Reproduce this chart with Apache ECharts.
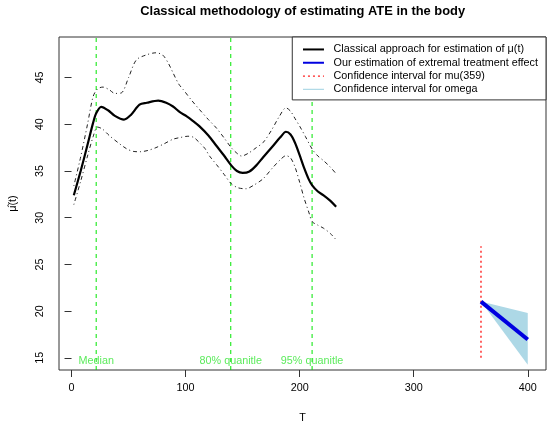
<!DOCTYPE html>
<html>
<head>
<meta charset="utf-8">
<script src="https://cdn.jsdelivr.net/npm/echarts@6/dist/echarts.min.js"></script>
<style>
html,body{margin:0;padding:0;background:#fff;}
#chart{width:550px;height:429px;}
</style>
</head>
<body>
<div id="chart"></div>
<script>
// Classical estimate mu(t)
var muX = [2, 8, 14, 19, 21.7, 26, 32, 38, 46, 52, 59.6, 66, 76, 83, 89, 95, 101, 106, 112, 120, 127, 134, 140, 145, 150, 156, 162, 168, 176, 183, 188, 192, 196, 200, 204, 208, 211, 216, 221, 227, 232];
var muY = [32.4, 35.0, 37.8, 40.2, 41.2, 41.87, 41.5, 40.9, 40.5, 41.0, 42.1, 42.3, 42.53, 42.3, 41.9, 41.3, 40.85, 40.4, 39.8, 38.8, 37.7, 36.6, 35.6, 35.0, 34.8, 34.95, 35.6, 36.47, 37.6, 38.6, 39.2, 38.9, 38.0, 36.7, 35.3, 34.1, 33.46, 32.8, 32.4, 31.8, 31.17];
// Upper confidence band
var upX = [2, 8, 14, 19, 23, 27.5, 33, 38, 43.6, 50, 56.7, 65, 74, 80, 85, 89, 94, 98, 105, 112, 120, 127, 134, 140, 145, 149, 155, 162, 168, 175, 182, 188, 192, 196, 200, 205, 211, 216, 221, 227, 232];
var upY = [33.4, 36.5, 40.0, 43.0, 43.8, 43.98, 43.7, 43.3, 43.35, 45.0, 46.87, 47.4, 47.65, 47.4, 46.5, 45.5, 44.3, 43.7, 42.6, 41.6, 40.5, 39.6, 38.5, 37.5, 36.9, 36.6, 36.9, 37.5, 38.05, 39.3, 40.8, 41.76, 41.4, 40.6, 39.8, 38.7, 37.34, 36.6, 36.1, 35.4, 34.7];
// Lower confidence band
var loX = [2, 8, 14, 19, 22.6, 27, 33, 40.6, 48, 54, 60, 67, 74, 81, 89, 96, 102, 107, 112, 117, 121, 127, 134, 140, 146, 153, 160, 168, 176, 183, 188, 192, 196, 200, 204, 208, 211, 216, 221, 227, 232];
var loY = [31.4, 33.9, 36.6, 38.7, 39.7, 39.5, 38.8, 38.05, 37.4, 37.1, 37.06, 37.2, 37.5, 37.9, 38.4, 38.6, 38.72, 38.6, 38.05, 37.4, 36.6, 35.7, 34.6, 33.64, 33.2, 33.1, 33.5, 34.17, 35.3, 36.2, 36.64, 36.4, 35.4, 33.8, 32.05, 30.6, 29.58, 29.2, 28.87, 28.3, 27.63];
// Extremal treatment effect
var extX = [359, 400];
var extY = [21.02, 16.97];
// Confidence interval for omega (polygon)
var omegaX = [359, 400, 400];
var omegaY = [21.02, 19.8, 14.25];
// Confidence interval for mu(359)
var ciMuX = [359, 359];
var ciMuY = [15, 26.95];
// Quantile lines
var quantX = [21.6, 139.6, 210.9];
var quantLabels = ['Median', '80% quanitle', '95% quanitle'];
var quantLabelY = 14.68;
// Axis ranges and ticks
var xRange = [-11, 416];
var yRange = [13.7, 49.34];
var xTicks = [0, 100, 200, 300, 400];
var yTicks = [15, 20, 25, 30, 35, 40, 45];

var names = ['Classical approach for estimation of \u03bc(t)', 'Our estimation of extremal treatment effect', 'Confidence interval for mu(359)', 'Confidence interval for omega'];

function pairs(xs, ys) { return xs.map(function (x, i) { return [x, ys[i]]; }); }

var FONT = 'Liberation Sans, Arial, Helvetica, sans-serif';
var dashDot = [1, 3, 4, 3];

var quantSeries = quantX.map(function (x, i) {
  return {
    name: 'q' + i, type: 'line', symbol: 'none', silent: true,
    data: [[x, yRange[0]], [x, yRange[1]]],
    lineStyle: { color: '#00e600', width: 1, type: [4, 4] }, z: 3
  };
});

var chart = echarts.init(document.getElementById('chart'), null, { renderer: 'canvas' });
chart.setOption({
  animation: false,
  backgroundColor: '#fff',
  textStyle: { fontFamily: FONT },
  title: {
    text: 'Classical methodology of estimating ATE in the body',
    left: 302.7, top: 5, padding: 0, textAlign: 'center',
    textStyle: { fontSize: 12.9, fontWeight: 'bold', color: '#000', fontFamily: FONT }
  },
  grid: { left: 59, right: 4, top: 37, bottom: 56, show: true, borderColor: '#333', borderWidth: 1, backgroundColor: 'transparent', containLabel: false },
  legend: {
    data: [
      { name: names[0], lineStyle: { width: 2 } },
      { name: names[1], lineStyle: { width: 2 } },
      { name: names[2], lineStyle: { width: 1.2 } },
      { name: names[3], lineStyle: { width: 1.2 } }
    ],
    orient: 'vertical', right: 4, top: 37,
    padding: [5.8, 8, 3.9, 9.7],
    itemWidth: 21, itemHeight: 10, itemGap: 0,
    itemStyle: { opacity: 0 },
    backgroundColor: '#fff', borderColor: '#333', borderWidth: 1, borderRadius: 0,
    selectedMode: false,
    textStyle: { fontSize: 10.8, color: '#000', lineHeight: 13.3, padding: [0, 0, 0, 4.6], fontFamily: FONT },
    z: 20
  },
  xAxis: {
    type: 'value', min: xRange[0], max: xRange[1],
    name: 'T', nameLocation: 'middle', nameGap: 43,
    nameTextStyle: { fontSize: 10.8, color: '#000', fontFamily: FONT },
    axisLine: { show: false },
    axisTick: { show: true, inside: false, length: 7, customValues: xTicks, lineStyle: { color: '#333' } },
    axisLabel: { show: true, customValues: xTicks, margin: 13, fontSize: 10.8, color: '#000', fontFamily: FONT },
    splitLine: { show: false }
  },
  yAxis: {
    type: 'value', min: yRange[0], max: yRange[1],
    name: '\u03bc\u0302(t)', nameLocation: 'middle', nameGap: 40,
    nameTextStyle: { fontSize: 10.8, color: '#000', fontFamily: FONT },
    axisLine: { show: false },
    axisTick: { show: true, inside: false, length: 7, customValues: yTicks, lineStyle: { color: '#333' } },
    axisLabel: { show: true, customValues: yTicks, rotate: 90, margin: 13, fontSize: 10.8, color: '#000', fontFamily: FONT },
    splitLine: { show: false }
  },
  series: [
    {
      name: names[0], type: 'line', data: pairs(muX, muY), smooth: 0.3, symbol: 'none',
      lineStyle: { color: '#000', width: 2.2 }, itemStyle: { color: '#000' }, z: 5
    },
    {
      name: 'upper', type: 'line', data: pairs(upX, upY), smooth: 0.3, symbol: 'none',
      lineStyle: { color: '#222', width: 1, type: dashDot }, z: 4
    },
    {
      name: 'lower', type: 'line', data: pairs(loX, loY), smooth: 0.3, symbol: 'none',
      lineStyle: { color: '#222', width: 1, type: dashDot }, z: 4
    }
  ].concat(quantSeries).concat([
    {
      name: 'quantLabels', type: 'scatter', symbolSize: 0, silent: true,
      data: quantX.map(function (x, i) { return { value: [x, quantLabelY], name: quantLabels[i] }; }),
      label: { show: true, position: 'inside', formatter: '{b}', color: '#33e633', fontSize: 10.8, fontFamily: FONT },
      z: 6
    },
    {
      name: 'omegaPoly', type: 'custom', silent: true,
      renderItem: function (params, api) {
        if (params.dataIndex !== 0) return null;
        var pts = omegaX.map(function (x, i) { return api.coord([x, omegaY[i]]); });
        return { type: 'polygon', shape: { points: pts }, style: { fill: '#ADD8E6' } };
      },
      data: pairs(omegaX, omegaY), z: 2
    },
    {
      name: names[2], type: 'line', data: pairs(ciMuX, ciMuY), symbol: 'none',
      lineStyle: { color: '#ff2020', width: 1.4, type: [2, 3] }, itemStyle: { color: '#ff2020' }, z: 3
    },
    {
      name: names[1], type: 'line', data: pairs(extX, extY), symbol: 'none',
      lineStyle: { color: '#0000e0', width: 4 }, itemStyle: { color: '#0000e0' }, z: 6
    },
    {
      name: names[3], type: 'line', data: [], symbol: 'none',
      lineStyle: { color: '#ADD8E6', width: 1.2 }, itemStyle: { color: '#ADD8E6' }
    }
  ])
});
</script>
</body>
</html>
